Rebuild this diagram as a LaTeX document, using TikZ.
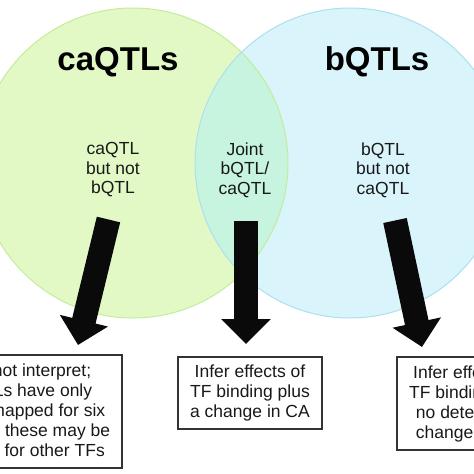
\documentclass[tikz,border=0pt]{standalone}
\usepackage{fontspec}
\setmainfont{Liberation Sans}
\usetikzlibrary{arrows.meta}
\definecolor{cafill}{HTML}{E2F9C5}
\definecolor{caline}{HTML}{C4EC9C}
\definecolor{bfill}{HTML}{D9F4FA}
\definecolor{bline}{HTML}{ADE0EE}
\definecolor{lensfill}{HTML}{C6F4DE}
\definecolor{arrowblack}{HTML}{0A0A0A}
\definecolor{boxline}{HTML}{333333}
\begin{document}
\begin{tikzpicture}[x=1pt,y=-1pt,
  titletext/.style={font=\fontsize{33}{36}\selectfont\bfseries, text=black},
  regiontext/.style={font=\fontsize{17.5}{19.5}\selectfont, align=center, text=black!90, inner sep=0pt},
  resultbox/.style={draw=boxline, line width=1.1pt, fill=white, align=center,
    font=\fontsize{17.5}{20}\selectfont, inner sep=0pt, text=black!90},
  bigarrow/.style={draw=arrowblack, fill=arrowblack, line width=24pt,
    -{Triangle[length=25pt,width=48pt]}}]
\useasboundingbox (0,0) rectangle (474,474);
\clip (0,0) rectangle (474,474);
\fill[white] (0,0) rectangle (474,474);
% circles
\fill[cafill] (133,163) circle[radius=155pt];
\fill[bfill] (350,163) circle[radius=155pt];
\begin{scope}
  \clip (133,163) circle[radius=155pt];
  \fill[lensfill] (350,163) circle[radius=155pt];
\end{scope}
\draw[caline, line width=1pt] (133,163) circle[radius=155pt];
\draw[bline, line width=1pt] (350,163) circle[radius=155pt];
% titles
\node[titletext] (catitle) at (118,62) {caQTLs};
\node[titletext] (btitle) at (377,62) {bQTLs};
% region labels
\node[regiontext] (caonly) at (113,170) {caQTL\\but not\\bQTL};
\node[regiontext] (joint) at (245,170) {Joint\\bQTL/\\caQTL};
\node[regiontext] (bonly) at (383,170) {bQTL\\but not\\caQTL};
% boxes
\node[resultbox, minimum width=192pt, minimum height=113pt] (boxleft) at (26,411.5)
  {Cannot interpret;\\bQTLs have only\\been mapped for six\\TFs, so these may be\\bQTLs for other TFs};
\node[resultbox, minimum width=144pt, minimum height=72pt] (boxmid) at (250,393)
  {Infer effects of\\TF binding plus\\a change in CA};
\node[resultbox, minimum width=143pt, minimum height=93pt] (boxright) at (468.5,403.5)
  {Infer effects of\\TF binding with\\no detectable\\change in CA};
% arrows
\coordinate (a1s) at (108.5,219.5);
\coordinate (a1e) at (78,345);
\coordinate (a2s) at (246,221);
\coordinate (a2e) at (246,344);
\coordinate (a3s) at (395,220.5);
\coordinate (a3e) at (422,347);
\draw[bigarrow] (a1s) -- (a1e);
\draw[bigarrow] (a2s) -- (a2e);
\draw[bigarrow] (a3s) -- (a3e);
\end{tikzpicture}
\end{document}
